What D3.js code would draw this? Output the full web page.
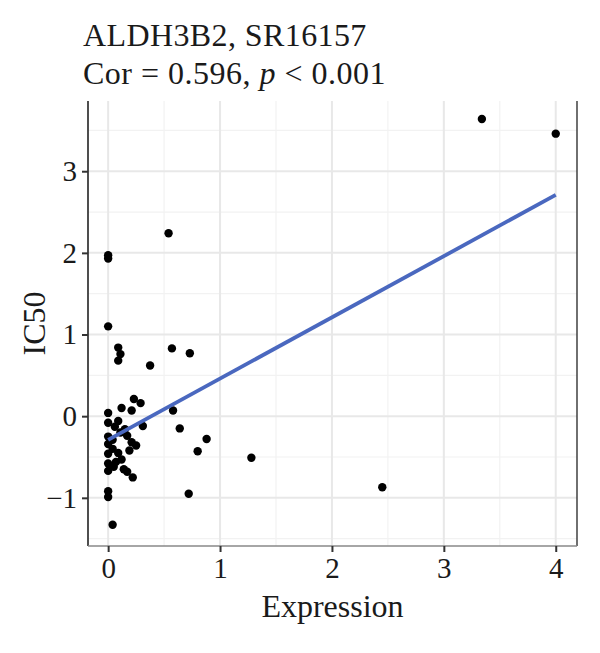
<!DOCTYPE html>
<html>
<head>
<meta charset="utf-8">
<script src="https://cdn.jsdelivr.net/npm/d3@7"></script>
<style>
  body { margin: 0; background: #fff; }
  text { font-family: "Liberation Serif", "DejaVu Serif", serif; fill: #1a1a1a; }
</style>
</head>
<body>
<div id="chart"></div>
<script>
// scatter of drug IC50 vs gene expression, with lm fit line

const titleLines = ["ALDH3B2, SR16157", "Cor = 0.596, p < 0.001"];
const xTicks = [0, 1, 2, 3, 4];
const yTicks = [-1, 0, 1, 2, 3];

// points
const expression = [
  0.00, 0.00, 0.09, 0.12, 0.21, 0.23, 0.29, 0.31, 0.58, 0.64,
  0.88, 0.80, 1.28, 2.45, 0.72, 0.04, 0.00, 0.00, 0.22, 0.00,
  0.00, 0.00, 0.00, 0.00, 0.04, 0.11, 0.17, 0.21, 0.25, 0.19,
  0.12, 0.07, 0.14, 0.05, 0.04, 0.09, 0.15, 0.06, 0.00, 0.00,
  0.00, 0.09, 0.11, 0.09, 0.57, 0.73, 0.375, 0.54, 3.34, 4.00,
  0.17
];
const ic50 = [
  0.04, -0.08, -0.06, 0.10, 0.07, 0.21, 0.16, -0.12, 0.07, -0.15,
  -0.28, -0.43, -0.51, -0.87, -0.95, -1.33, -0.92, -0.99, -0.75, -0.25,
  -0.34, -0.46, -0.58, -0.67, -0.29, -0.20, -0.24, -0.32, -0.36, -0.42,
  -0.53, -0.56, -0.65, -0.62, -0.40, -0.45, -0.16, -0.13, 1.93, 1.97,
  1.10, 0.84, 0.76, 0.68, 0.83, 0.77, 0.62, 2.24, 3.64, 3.46,
  -0.68
];

// fitted line endpoints
const fitX = [0, 4.0];
const fitY = [-0.29, 2.71];

const width = 600, height = 653;
const margin = { top: 101, right: 23, bottom: 107, left: 88 };
const innerWidth = width - margin.left - margin.right;
const innerHeight = height - margin.top - margin.bottom;

const svg = d3.select("#chart").append("svg")
    .attr("width", width)
    .attr("height", height);

const x = d3.scaleLinear().domain([-0.18, 4.19]).range([0, innerWidth]);
const y = d3.scaleLinear().domain([-1.59, 3.86]).range([innerHeight, 0]);

const g = svg.append("g").attr("transform", `translate(${margin.left},${margin.top})`);

// grid: minor then major
const minorX = xTicks.slice(0, -1).map(d => d + 0.5);
const minorY = [-1.5, -0.5, 0.5, 1.5, 2.5, 3.5];

g.selectAll(".minor-x").data(minorX).enter().append("line")
    .attr("x1", d => x(d)).attr("x2", d => x(d))
    .attr("y1", 0).attr("y2", innerHeight)
    .attr("stroke", "#f2f2f2").attr("stroke-width", 1.2);
g.selectAll(".minor-y").data(minorY).enter().append("line")
    .attr("x1", 0).attr("x2", innerWidth)
    .attr("y1", d => y(d)).attr("y2", d => y(d))
    .attr("stroke", "#f2f2f2").attr("stroke-width", 1.2);
g.selectAll(".major-x").data(xTicks).enter().append("line")
    .attr("x1", d => x(d)).attr("x2", d => x(d))
    .attr("y1", 0).attr("y2", innerHeight)
    .attr("stroke", "#e8e8e8").attr("stroke-width", 2);
g.selectAll(".major-y").data(yTicks).enter().append("line")
    .attr("x1", 0).attr("x2", innerWidth)
    .attr("y1", d => y(d)).attr("y2", d => y(d))
    .attr("stroke", "#e8e8e8").attr("stroke-width", 2);

// points
const pts = expression.map((v, i) => ({ x: v, y: ic50[i] }));
g.selectAll("circle").data(pts).enter().append("circle")
    .attr("cx", d => x(d.x))
    .attr("cy", d => y(d.y))
    .attr("r", 4.2)
    .attr("fill", "#000");

// regression line
g.append("line")
    .attr("x1", x(fitX[0])).attr("y1", y(fitY[0]))
    .attr("x2", x(fitX[1])).attr("y2", y(fitY[1]))
    .attr("stroke", "#4a68bf").attr("stroke-width", 3.8);

// panel edges
g.append("line").attr("x1", 0).attr("x2", 0).attr("y1", 0).attr("y2", innerHeight)
    .attr("stroke", "#222").attr("stroke-width", 1.6);
g.append("line").attr("x1", innerWidth).attr("x2", innerWidth).attr("y1", 0).attr("y2", innerHeight)
    .attr("stroke", "#333").attr("stroke-width", 1.4);
g.append("line").attr("x1", 0).attr("x2", innerWidth).attr("y1", innerHeight).attr("y2", innerHeight)
    .attr("stroke", "#888").attr("stroke-width", 1.4);

// axes
const fmt = d => d < 0 ? "\u2212" + Math.abs(d) : String(d);

g.append("g")
    .attr("transform", `translate(0,${innerHeight})`)
    .call(d3.axisBottom(x).tickValues(xTicks).tickFormat(fmt).tickSize(6).tickPadding(5))
    .attr("font-size", 29)
    .attr("font-family", "Liberation Serif")
    .call(a => a.select(".domain").remove())
    .call(a => a.selectAll(".tick line").attr("stroke", "#333").attr("stroke-width", 2))
    .call(a => a.selectAll(".tick text").attr("fill", "#1a1a1a"));

g.append("g")
    .call(d3.axisLeft(y).tickValues(yTicks).tickFormat(fmt).tickSize(6).tickPadding(5))
    .attr("font-size", 29)
    .attr("font-family", "Liberation Serif")
    .call(a => a.select(".domain").remove())
    .call(a => a.selectAll(".tick line").attr("stroke", "#333").attr("stroke-width", 2))
    .call(a => a.selectAll(".tick text").attr("fill", "#1a1a1a"));

// axis titles
svg.append("text")
    .attr("x", margin.left + innerWidth / 2)
    .attr("y", 617)
    .attr("text-anchor", "middle")
    .attr("font-size", 32)
    .text("Expression");

svg.append("text")
    .attr("transform", `translate(45,${margin.top + innerHeight / 2}) rotate(-90)`)
    .attr("text-anchor", "middle")
    .attr("font-size", 32)
    .text("IC50");

// title
svg.append("text")
    .attr("x", 83).attr("y", 46)
    .attr("font-size", 32)
    .attr("letter-spacing", 0.4)
    .text(titleLines[0]);

const t2 = svg.append("text")
    .attr("x", 83).attr("y", 84)
    .attr("font-size", 32)
    .attr("letter-spacing", 0.5);
t2.append("tspan").text("Cor = 0.596, ");
t2.append("tspan").attr("font-style", "italic").text("p");
t2.append("tspan").text(" < 0.001");
</script>
</body>
</html>
